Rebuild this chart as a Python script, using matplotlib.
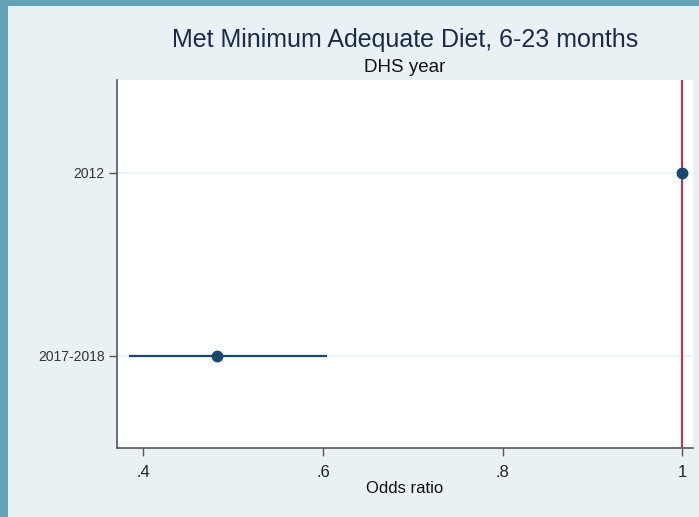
import numpy as np
import matplotlib
matplotlib.use('Agg')
import matplotlib.pyplot as plt
from matplotlib.patches import Rectangle

plt.rcParams['font.family'] = ['Liberation Sans', 'DejaVu Sans']

# odds ratios by survey round (2012 is the reference category)
years = ['2012', '2017-2018']
odds = [1.0, 0.482]
ci_low = [np.nan, 0.384]
ci_high = [np.nan, 0.605]
xticks = [0.4, 0.6, 0.8, 1.0]
xtick_labels = ['.4', '.6', '.8', '1']

W, H = 699, 517
fig = plt.figure(figsize=(W / 100, H / 100), dpi=100)
fig.patch.set_facecolor('#eaf1f4')
# teal frame along the top and left edges
frame = '#64a2b8'
fig.patches.append(Rectangle((0, 0), 8 / W, 1, transform=fig.transFigure,
                             facecolor=frame, edgecolor='none', zorder=-10))
fig.patches.append(Rectangle((0, 1 - 6 / H), 1, 6 / H, transform=fig.transFigure,
                             facecolor=frame, edgecolor='none', zorder=-10))

ax = fig.add_axes([117 / W, 1 - 448 / H, (693 - 117) / W, (448 - 80) / H])
ax.set_facecolor('white')

ypos = np.arange(1, len(years) + 1)
navy = '#1a476f'
for y, o, lo, hi in zip(ypos, odds, ci_low, ci_high):
    if not np.isnan(lo):
        ax.plot([lo, hi], [y, y], color=navy, lw=1.6, solid_capstyle='butt', zorder=3)
    ax.plot(o, y, 'o', color=navy, ms=7.5, zorder=4, clip_on=False)

ax.axvline(1.0, color='#d6204b', lw=1.4, zorder=2)

ax.set_xlim(0.3707, 1.0119)
ax.set_ylim(2.503, 0.492)
ax.set_yticks(ypos)
ax.set_yticklabels(years, fontsize=10, color='#333333')
ax.set_xticks(xticks)
ax.set_xticklabels(xtick_labels, fontsize=12, color='#222222')
ax.tick_params(axis='both', length=6, width=1, color='#555555', pad=3)
ax.tick_params(axis='x', pad=6)
ax.grid(axis='y', color='#eaf2f3', lw=1.2)
ax.set_axisbelow(True)

for side in ['top', 'right']:
    ax.spines[side].set_visible(False)
for side in ['left', 'bottom']:
    ax.spines[side].set_color('#555555')
    ax.spines[side].set_linewidth(1.2)

ax.set_xlabel('Odds ratio', fontsize=12, color='#111111', labelpad=1)

fig.text(405 / W, 1 - 40 / H, 'Met Minimum Adequate Diet, 6-23 months',
         ha='center', va='center', fontsize=18, color='#1b2a4a')
fig.text(405 / W, 1 - 68 / H, 'DHS year', ha='center', va='center',
         fontsize=13.5, color='#111111')

fig.savefig('out.png', dpi=100, facecolor=fig.get_facecolor())
plt.close()
